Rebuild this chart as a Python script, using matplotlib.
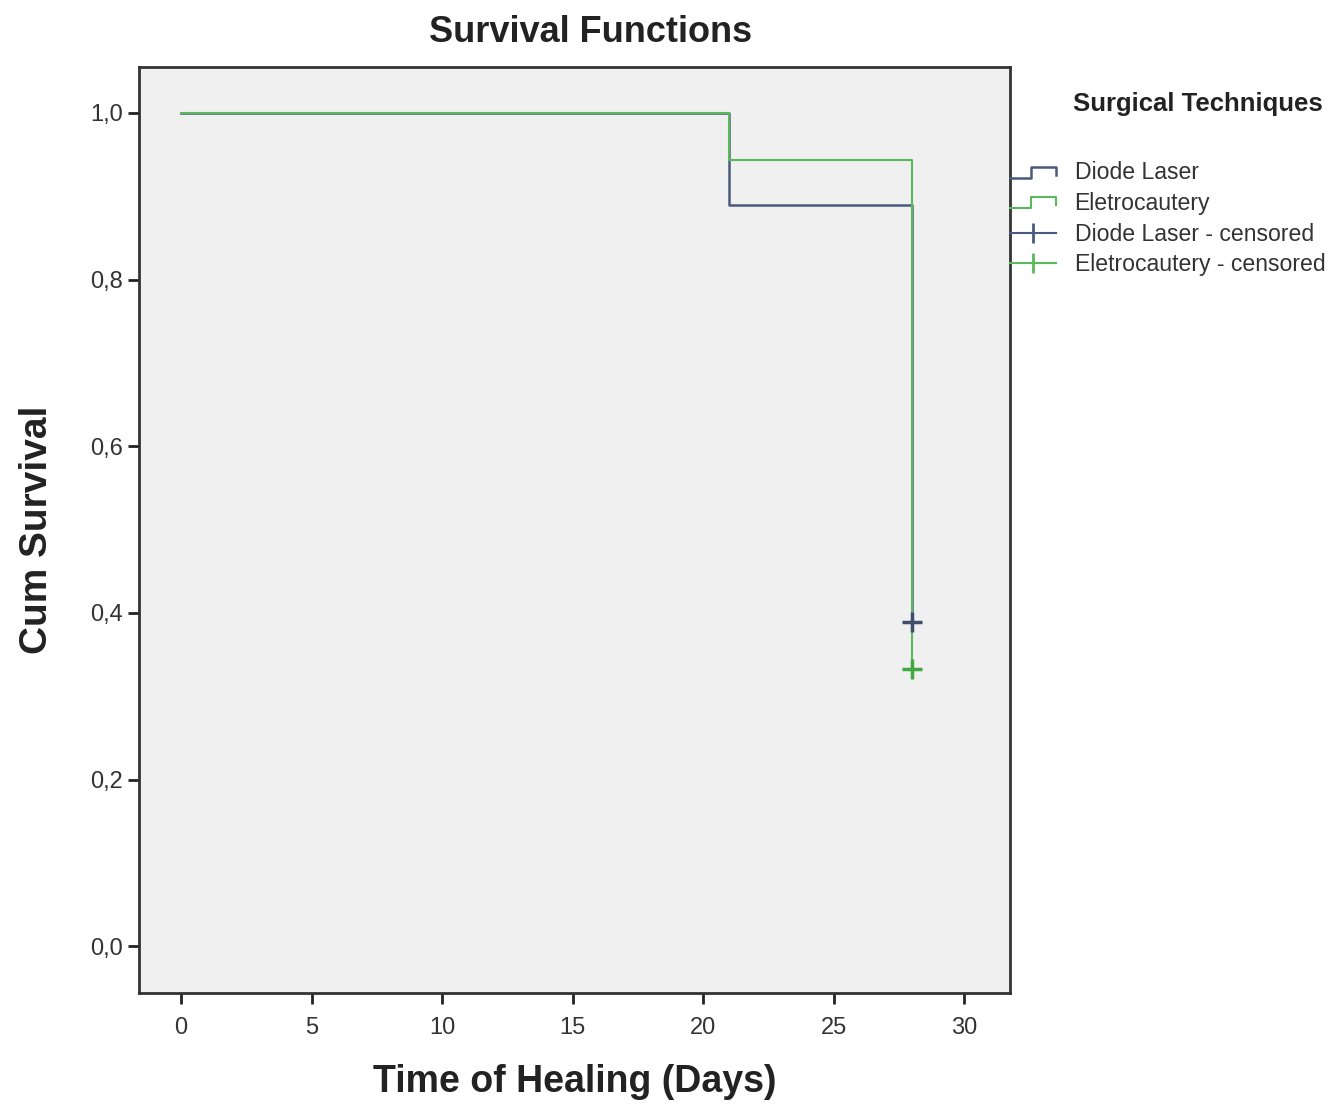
import matplotlib
matplotlib.use('Agg')
import matplotlib.pyplot as plt
from matplotlib.lines import Line2D
from matplotlib.legend_handler import HandlerBase

plt.rcParams['font.family'] = ['Liberation Sans', 'DejaVu Sans']

# Kaplan-Meier estimates
days_diode = [0, 21, 28]
surv_diode = [1.0, 0.889, 0.389]
days_electro = [0, 21, 28]
surv_electro = [1.0, 0.944, 0.333]
censor_day = 28

x_ticks = [0, 5, 10, 15, 20, 25, 30]
y_ticks = [0.0, 0.2, 0.4, 0.6, 0.8, 1.0]
y_labels = ['0,0', '0,2', '0,4', '0,6', '0,8', '1,0']

group_names = ['Diode Laser', 'Eletrocautery']
color_diode = '#4a5a7c'
color_electro = '#5cb85c'


class StepHandler(HandlerBase):
    # draws the little step icon that SPSS uses in its legend
    def create_artists(self, legend, orig_handle, xdescent, ydescent,
                       width, height, fontsize, trans):
        x0 = -xdescent
        y0 = -ydescent
        xs = [x0, x0 + 0.45 * width, x0 + 0.45 * width, x0 + width, x0 + width]
        ys = [y0 + 0.1 * height, y0 + 0.1 * height, y0 + 0.8 * height,
              y0 + 0.8 * height, y0 + 0.3 * height]
        line = Line2D(xs, ys, color=orig_handle.get_color(),
                      linewidth=orig_handle.get_linewidth(), transform=trans)
        return [line]


fig = plt.figure(figsize=(13.39, 11.04), dpi=100)
ax = fig.add_axes([0.1038, 0.1005, 0.6505, 0.8388])
ax.set_facecolor('#f0f0f0')

l1, = ax.step(days_diode, surv_diode, where='post', color=color_diode, linewidth=1.8)
l2, = ax.step(days_electro, surv_electro, where='post', color=color_electro, linewidth=1.5)
c1, = ax.plot([censor_day], [surv_diode[-1]], linestyle='none', marker='+',
              markersize=14, markeredgewidth=2.5, color='#3f4d6e')
c2, = ax.plot([censor_day], [surv_electro[-1]], linestyle='none', marker='+',
              markersize=14, markeredgewidth=2.5, color='#3fa83f')

ax.set_xlim(-1.61, 31.76)
ax.set_ylim(-0.056, 1.055)
ax.set_xticks(x_ticks)
ax.set_yticks(y_ticks)
ax.set_yticklabels(y_labels)
ax.tick_params(direction='out', length=8, width=2, labelsize=17,
               colors='#222222', labelcolor='#333333')
ax.tick_params(axis='x', pad=9)
for s in ax.spines.values():
    s.set_linewidth(2)
    s.set_color('#333333')

ax.set_title('Survival Functions', fontsize=26, fontweight='bold', pad=18,
             color='#222222', x=0.518)
ax.set_xlabel('Time of Healing (Days)', fontsize=27, fontweight='bold', labelpad=18, color='#222222')
ax.set_ylabel('Cum Survival', fontsize=28, fontweight='bold', labelpad=25, color='#222222')

h_c1 = Line2D([], [], color=color_diode, linewidth=1.5, marker='|', markersize=14,
              markeredgewidth=2)
h_c2 = Line2D([], [], color=color_electro, linewidth=1.5, marker='|', markersize=14,
              markeredgewidth=2)
leg = ax.legend([l1, l2, h_c1, h_c2],
                [group_names[0], group_names[1],
                 group_names[0] + ' - censored', group_names[1] + ' - censored'],
                handler_map={l1: StepHandler(), l2: StepHandler()},
                loc='upper left', bbox_to_anchor=(1.0, 0.898), frameon=False,
                fontsize=16.6, handlelength=2.0, handletextpad=0.8, labelspacing=0.33,
                borderaxespad=0, borderpad=0)
for t in leg.get_texts():
    t.set_color('#333333')

ax.text(1.072, 0.96, 'Surgical Techniques', transform=ax.transAxes, fontsize=18.5,
        fontweight='bold', color='#222222', va='center', ha='left')

fig.savefig('out.png', dpi=100)
